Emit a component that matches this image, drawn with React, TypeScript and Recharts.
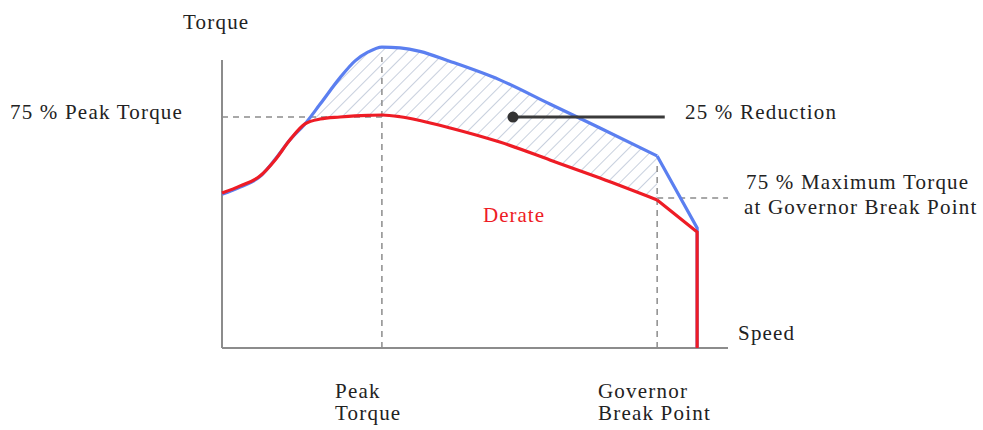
import {
  ComposedChart,
  Line,
  Area,
  XAxis,
  YAxis,
  ReferenceLine,
  ReferenceDot,
} from "recharts";

// engine speed (0-100) and torque (0-120)
const speed = [0, 3.6, 7.5, 10.5, 13.4, 16.4, 19.4, 23.3, 26.3, 28.9, 31.6, 35.2, 39.1, 45.1, 54.9, 64.8, 74.7, 86.0];
const fullTorque = [53.4, 55.9, 59.5, 65.5, 72.2, 77.8, 84.7, 93.8, 99.7, 102.8, 104.5, 104.2, 103.0, 99.5, 93.1, 84.7, 76.4, 66.7];
const derateTorque = [53.8, 56.3, 59.7, 65.3, 72.2, 77.8, 79.5, 80.2, 80.6, 80.8, 80.9, 80.3, 79.0, 76.4, 71.5, 65.3, 59.0, 51.4];

// past the governor break point
const tailSpeed = [86.0, 93.9, 93.9];
const fullTail = [66.7, 41.7, 0];
const derateTail = [51.4, 40.3, 0];

const hatchFrom = 5; // reduction band starts where the curves split

const peakSpeed = 31.6;
const governorSpeed = 86.0;
const peak75 = 80.2;
const governor75 = 52.1;
const reductionDot = { x: 57.5, y: 80.2 };
const reductionEnd = 87.5;

const mainData = speed.map((s, i) => ({ speed: s, full: fullTorque[i], derate: derateTorque[i] }));
const tailData = tailSpeed.map((s, i) => ({ speed: s, full: fullTail[i], derate: derateTail[i] }));
const bandData = mainData.slice(hatchFrom).map((d) => ({ speed: d.speed, band: [d.derate, d.full] }));

const BLUE = "#5b7ff0";
const RED = "#ee1c25";
const GRAY = "#8c8c8c";
const FONT = "'Liberation Serif', 'DejaVu Serif', serif";

const labels = [
  { x: 183, y: 29, text: "Torque" },
  { x: 10, y: 119, text: "75 % Peak Torque" },
  { x: 685, y: 119, text: "25 % Reduction" },
  { x: 746, y: 189, text: "75 % Maximum Torque" },
  { x: 744, y: 214, text: "at Governor Break Point" },
  { x: 738, y: 340, text: "Speed" },
  { x: 335, y: 398, text: "Peak" },
  { x: 335, y: 420, text: "Torque" },
  { x: 598, y: 398, text: "Governor" },
  { x: 598, y: 420, text: "Break Point" },
];

export default function App() {
  return (
    <div style={{ position: "absolute", left: 0, top: 0, width: 983, height: 430, background: "#fff" }}>
      <ComposedChart width={983} height={430} margin={{ top: 2.4, right: 255, bottom: 82, left: 222 }}>
        <defs>
          <pattern id="hatch" patternUnits="userSpaceOnUse" width={9} height={9} patternTransform="rotate(45)">
            <line x1={0} y1={0} x2={0} y2={9} stroke="#aab6cc" strokeWidth={1.3} />
          </pattern>
        </defs>
        <XAxis type="number" dataKey="speed" domain={[0, 100]} hide />
        <YAxis type="number" domain={[0, 120]} hide />

        <Area
          data={bandData}
          dataKey="band"
          type="monotone"
          stroke="none"
          fill="url(#hatch)"
          fillOpacity={1}
          isAnimationActive={false}
        />

        <ReferenceLine segment={[{ x: 0, y: 0 }, { x: 0, y: 100 }]} stroke={GRAY} strokeWidth={2} />
        <ReferenceLine segment={[{ x: 0, y: 0 }, { x: 100, y: 0 }]} stroke={GRAY} strokeWidth={2} />
        <ReferenceLine segment={[{ x: 0, y: peak75 }, { x: peakSpeed, y: peak75 }]} stroke={GRAY} strokeWidth={1.5} strokeDasharray="6 5" />
        <ReferenceLine segment={[{ x: peakSpeed, y: 0 }, { x: peakSpeed, y: 101 }]} stroke={GRAY} strokeWidth={1.5} strokeDasharray="6 5" />
        <ReferenceLine segment={[{ x: governorSpeed, y: 0 }, { x: governorSpeed, y: 64.6 }]} stroke={GRAY} strokeWidth={1.5} strokeDasharray="6 5" />
        <ReferenceLine segment={[{ x: governorSpeed, y: governor75 }, { x: 100, y: governor75 }]} stroke={GRAY} strokeWidth={1.5} strokeDasharray="6 5" />

        <Line data={mainData} dataKey="full" type="monotone" stroke={BLUE} strokeWidth={3.2} dot={false} isAnimationActive={false} />
        <Line data={tailData} dataKey="full" type="linear" stroke={BLUE} strokeWidth={3.2} dot={false} isAnimationActive={false} />
        <Line data={mainData} dataKey="derate" type="monotone" stroke={RED} strokeWidth={3.2} dot={false} isAnimationActive={false} />
        <Line data={tailData} dataKey="derate" type="linear" stroke={RED} strokeWidth={3.2} dot={false} isAnimationActive={false} />

        <ReferenceLine segment={[reductionDot, { x: reductionEnd, y: reductionDot.y }]} stroke="#3a3a3a" strokeWidth={3} />
        <ReferenceDot x={reductionDot.x} y={reductionDot.y} r={5.5} fill="#333" stroke="none" />
      </ComposedChart>
      <svg width={983} height={430} style={{ position: "absolute", left: 0, top: 0, pointerEvents: "none" }}>
        {labels.map((l) => (
          <text key={l.text + l.y} x={l.x} y={l.y} fontFamily={FONT} fontSize={21} fill="#222" letterSpacing={1.2}>
            {l.text}
          </text>
        ))}
        <text x={483} y={222} fontFamily={FONT} fontSize={21} fill={RED} letterSpacing={1}>
          Derate
        </text>
      </svg>
    </div>
  );
}
